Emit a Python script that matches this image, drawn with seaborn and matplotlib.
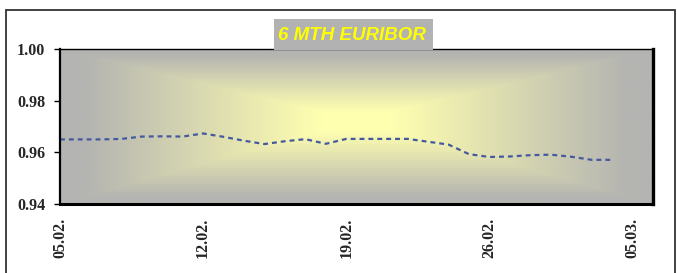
import numpy as np
import pandas as pd
import matplotlib
matplotlib.use("Agg")
import matplotlib.pyplot as plt
import matplotlib.dates as mdates
from matplotlib.patches import Rectangle
import seaborn as sns

# ---- data ----
start_date = "2001-02-05"
rate_values = [0.9650, 0.9650, 0.9650, 0.9652, 0.9661, 0.9662, 0.9661,
               0.9673, 0.9660, 0.9645, 0.9632, 0.9643, 0.9651, 0.9633,
               0.9652, 0.9652, 0.9652, 0.9652, 0.9641, 0.9630, 0.9593,
               0.9582, 0.9584, 0.9589, 0.9591, 0.9583, 0.9571, 0.9571]
tick_dates = ["2001-02-05", "2001-02-12", "2001-02-19", "2001-02-26", "2001-03-05"]
y_ticks = [0.94, 0.96, 0.98, 1.00]
title_text = "6 MTH EURIBOR"

dates = pd.date_range(start_date, periods=len(rate_values), freq="D")
df = pd.DataFrame({"date": dates, "rate": rate_values})

sns.set_theme(style="white")
plt.rcParams["font.family"] = ["Liberation Serif", "DejaVu Serif"]

W, H = 677, 273
fig = plt.figure(figsize=(W / 100, H / 100), dpi=100)
ax = fig.add_axes([60 / W, 1 - 204 / H, (653 - 60) / W, (204 - 49) / H])

x0 = mdates.date2num(pd.Timestamp(start_date))
x1 = x0 + 29.0
ax.set_xlim(x0, x1)
ax.set_ylim(0.94, 1.00)

# background box gradient (gray edges -> pale yellow center)
nx, ny = 400, 160
gx = np.linspace(0, 1, nx)
gy = np.linspace(0, 1, ny)
GX, GY = np.meshgrid(gx, gy)
cx, cy = 0.50, 0.46
dx = np.abs(GX - cx) / np.where(GX < cx, cx, 1 - cx)
dy = np.abs(GY - cy) / np.where(GY < cy, cy, 1 - cy)
t = np.clip(np.maximum(dx, dy), 0, 1)
t = np.clip((t - 0.12) / 0.8, 0, 1)
edge = np.array([180, 180, 178]) / 255
center = np.array([255, 255, 176]) / 255
img = center[None, None, :] * (1 - t[..., None]) + edge[None, None, :] * t[..., None]
ax.imshow(img, extent=(x0, x1, 0.94, 1.00), aspect="auto", origin="upper",
          zorder=0, interpolation="bilinear")

sns.lineplot(data=df, x="date", y="rate", ax=ax, color="#45599f",
             linewidth=1.6, zorder=3)
ax.lines[-1].set_dashes((2.2, 1.8))

ax.set_xticks([mdates.date2num(pd.Timestamp(d)) for d in tick_dates])
ax.xaxis.set_major_formatter(mdates.DateFormatter("%d.%m."))
ax.set_yticks(y_ticks)
ax.set_yticklabels([f"{v:.2f}" for v in y_ticks])
ax.set_xlabel("")
ax.set_ylabel("")
for lab in ax.get_xticklabels():
    lab.set_rotation(90)
    lab.set_fontweight("bold")
    lab.set_fontsize(11.5)
for lab in ax.get_yticklabels():
    lab.set_fontweight("bold")
    lab.set_fontsize(11.5)
ax.tick_params(axis="y", direction="out", length=4, width=1, color="black",
               pad=6.5, left=True)
ax.tick_params(axis="x", length=0, pad=10)
ax.grid(False)

for side, lw in (("top", 1.0), ("left", 1.6), ("right", 2.4), ("bottom", 2.2)):
    ax.spines[side].set_visible(True)
    ax.spines[side].set_color("black")
    ax.spines[side].set_linewidth(lw)
    ax.spines[side].set_zorder(4)

# outer frame
fig.add_artist(Rectangle((6 / W, -0.2), (675 - 6) / W, 1 - 10 / H + 0.2,
                         transform=fig.transFigure, fill=False,
                         edgecolor="#333333", linewidth=1.3, zorder=1))

# title box
fig.add_artist(Rectangle((274 / W, 1 - 50 / H), (433 - 274) / W, 31 / H,
                         transform=fig.transFigure, facecolor="#b2b2b2",
                         edgecolor="none", zorder=6))
fig.text(352 / W, 1 - 35 / H, title_text, ha="center", va="center",
         color="#ffff00", fontsize=13.5, fontweight="bold", fontstyle="italic",
         family=["Liberation Sans", "DejaVu Sans"], zorder=7)

fig.savefig("out.png", dpi=100)
